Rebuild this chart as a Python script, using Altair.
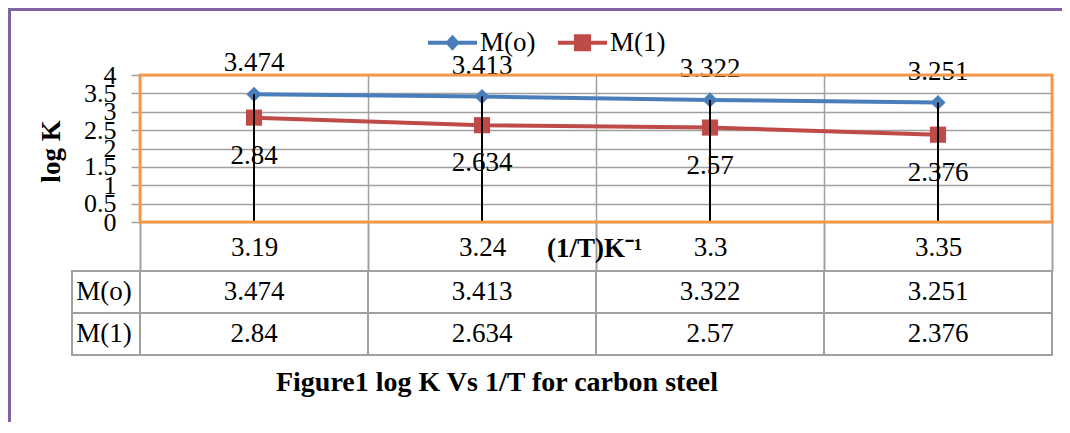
import altair as alt
import pandas as pd

# ---- data ----
categories = ["3.19", "3.24", "3.3", "3.35"]
series_names = ["M(o)", "M(1)"]
m_o = [3.474, 3.413, 3.322, 3.251]
m_1 = [2.84, 2.634, 2.57, 2.376]
y_ticks = [0, 0.5, 1, 1.5, 2, 2.5, 3, 3.5, 4]
x_title = "(1/T)K⁻¹"
y_title = "log K"
caption = "Figure1 log K Vs 1/T for carbon steel"

rows = []
for c, a, b in zip(categories, m_o, m_1):
    rows.append({"cat": c, "series": series_names[0], "value": a})
    rows.append({"cat": c, "series": series_names[1], "value": b})
df = pd.DataFrame(rows)
drop_df = pd.DataFrame({"cat": categories, "value": m_o})
label_df = pd.DataFrame({"series": series_names})

# ---- styling ----
W, H = 912, 147
PAD_R, PAD_B = 10, 200
FONT = "Liberation Serif"
BLUE = "#4a7ebb"
RED = "#be4b48"
ORANGE = "#f79646"
GRID = "#a0a0a0"
PURPLE = "#8064a2"
FS = 27

color_scale = alt.Scale(domain=series_names, range=[BLUE, RED])

x_enc = alt.X(
    "cat:N", sort=categories,
    scale=alt.Scale(domain=categories, paddingInner=0, paddingOuter=0),
    axis=alt.Axis(
        title=x_title, titleFont=FONT, titleFontSize=FS, titleFontWeight="bold",
        titleColor="black", titleX=454, titleY=26, titleBaseline="middle", titleAlign="center",
        grid=True, gridColor=GRID, gridWidth=1.5, tickBand="extent",
        ticks=True, tickSize=49, tickColor=GRID, tickWidth=2,
        labels=True, labelFont=FONT, labelFontSize=FS, labelColor="black", labelAngle=0,
        labelPadding=-24, labelBaseline="middle", domain=False,
    ),
)

y_enc = alt.Y(
    "value:Q",
    scale=alt.Scale(domain=[0, 4], nice=False),
    axis=alt.Axis(
        values=y_ticks, format="~g", title=y_title, titleFont=FONT, titleFontSize=FS,
        titleFontWeight="bold", titleColor="black", titleX=-89, titleY=76, titleAngle=270,
        titleBaseline="middle", titleAlign="center",
        grid=True, gridColor=GRID, gridWidth=1.5,
        labelOverlap=False, labelFlush=False, labelFont=FONT, labelFontSize=26,
        labelColor="black", labelPadding=15, labelBaseline="middle",
        tickSize=9, tickColor=GRID, tickWidth=1.5, domain=False,
    ),
)

table_y = alt.Y(
    "series:N", sort=series_names,
    scale=alt.Scale(domain=series_names, range=[196, 280], paddingInner=0, paddingOuter=0),
    axis=None,
)

base = alt.Chart(df)

lines = base.mark_line(strokeWidth=4).encode(
    x=x_enc, y=y_enc, color=alt.Color("series:N", scale=color_scale, legend=None)
)

points = base.mark_point(filled=True, opacity=1).encode(
    x=x_enc, y=y_enc,
    color=alt.Color("series:N", scale=color_scale, legend=None),
    shape=alt.Shape("series:N", scale=alt.Scale(domain=series_names, range=["diamond", "square"]), legend=None),
    size=alt.Size("series:N", scale=alt.Scale(domain=series_names, range=[230, 260]), legend=None),
)

drops = alt.Chart(drop_df).mark_rule(color="black", strokeWidth=2).encode(
    x=x_enc, y=y_enc, y2=alt.datum(0)
)

lab_o = base.transform_filter(alt.datum.series == series_names[0]).mark_text(
    font=FONT, fontSize=FS, color="black", dy=-31, baseline="middle"
).encode(x=x_enc, y=y_enc, text=alt.Text("value:Q"))

lab_1 = base.transform_filter(alt.datum.series == series_names[1]).mark_text(
    font=FONT, fontSize=FS, color="black", dy=38, baseline="middle"
).encode(x=x_enc, y=y_enc, text=alt.Text("value:Q"))

leg = alt.Legend(
    orient="none", legendX=288, legendY=-57, direction="horizontal", title=None,
    labelFont=FONT, labelFontSize=FS, labelColor="black", symbolSize=2401,
    symbolStrokeWidth=0, labelOffset=3, columnPadding=22, padding=0,
)
path_o = "M-1,-0.08L1,-0.08L1,0.08L-1,0.08Z M0,-0.33L0.3,0L0,0.33L-0.3,0Z"
path_1 = "M-1,-0.08L1,-0.08L1,0.08L-1,0.08Z M-0.35,-0.35L0.35,-0.35L0.35,0.35L-0.35,0.35Z"
legend_layer = base.transform_filter("false").mark_point(filled=True, opacity=1).encode(
    x=x_enc, y=y_enc,
    color=alt.Color("series:N", scale=color_scale, legend=leg),
    shape=alt.Shape("series:N", scale=alt.Scale(domain=series_names, range=[path_o, path_1]), legend=leg),
)

# plot frame (orange border) drawn above the grid
plot_frame = alt.Chart(label_df).mark_rect(fillOpacity=0, stroke=ORANGE, strokeWidth=2.5).encode(
    x=alt.value(0), x2=alt.value(W), y=alt.value(0), y2=alt.value(H)
)

main = alt.layer(
    lines, points, drops, lab_o, lab_1, legend_layer, plot_frame
).resolve_scale(color="independent", shape="independent", size="independent")

cells = base.mark_rect(fillOpacity=0, stroke=GRID, strokeWidth=2).encode(x=x_enc, y=table_y)
cell_text = base.mark_text(font=FONT, fontSize=FS, color="black", baseline="middle").encode(
    x=x_enc, y=table_y, text=alt.Text("value:Q")
)
label_cells = alt.Chart(label_df).mark_rect(fillOpacity=0, stroke=GRID, strokeWidth=2).encode(
    x=alt.value(-68), x2=alt.value(0), y=table_y
)
label_text = alt.Chart(label_df).mark_text(font=FONT, fontSize=FS, color="black", baseline="middle").encode(
    x=alt.value(-36), y=table_y, text="series:N"
)

table = alt.layer(cells, cell_text, label_cells, label_text)

frame_top = alt.Chart(label_df).mark_rule(color=PURPLE, strokeWidth=4).encode(
    x=alt.value(-132), x2=alt.value(W + PAD_R), y=alt.value(-66)
)
frame_left = alt.Chart(label_df).mark_rule(color=PURPLE, strokeWidth=4).encode(
    x=alt.value(-131), y=alt.value(-67), y2=alt.value(H + PAD_B)
)

chart = alt.layer(
    main, table, frame_top, frame_left,
).resolve_scale(y="independent").properties(
    width=W, height=H,
    autosize=alt.AutoSizeParams(type="none"),
    padding={"left": 132, "top": 67, "right": PAD_R, "bottom": PAD_B},
    background="white",
    title=alt.TitleParams(
        caption, orient="bottom", anchor="middle", frame="group", dx=-99, offset=-41,
        font=FONT, fontSize=28, fontWeight="bold", color="black", baseline="middle",
    ),
).configure_view(stroke=None)

chart.save("out.html", embed_options={"renderer": "svg", "actions": False})
